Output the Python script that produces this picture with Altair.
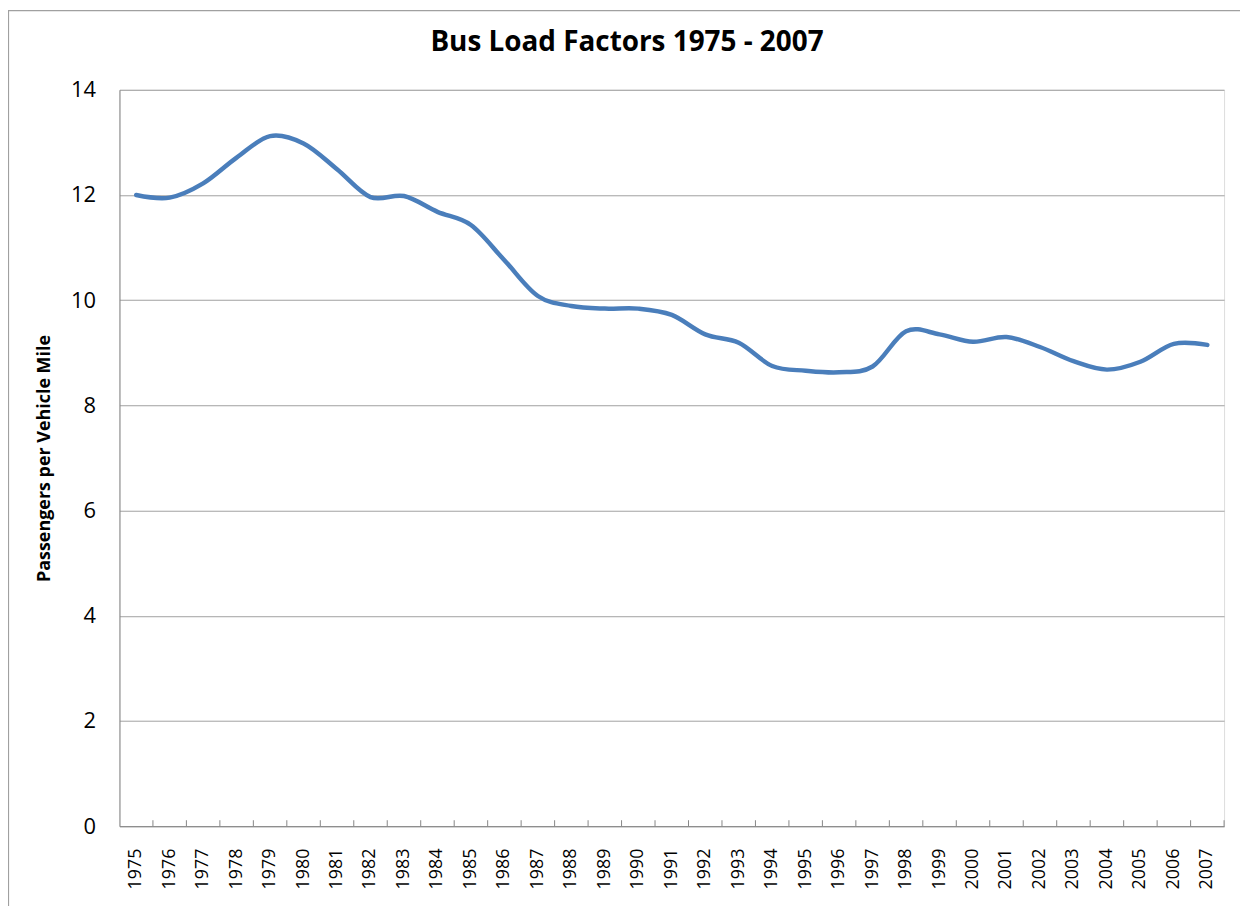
import altair as alt
import pandas as pd

# ---- data ----
years = [str(y) for y in range(1975, 2008)]
load_factor = [12.00, 11.95, 12.22, 12.71, 13.12, 12.98, 12.49, 11.96, 11.98, 11.68,
               11.43, 10.76, 10.08, 9.89, 9.84, 9.84, 9.72, 9.35, 9.19, 8.75,
               8.66, 8.63, 8.74, 9.41, 9.35, 9.21, 9.30, 9.11, 8.84, 8.68,
               8.83, 9.17, 9.15]
y_ticks = [0, 2, 4, 6, 8, 10, 12, 14]
chart_title = "Bus Load Factors 1975 - 2007"
y_title = "Passengers per Vehicle Mile"

df = pd.DataFrame({"Year": years, "Load": load_factor})

W, H = 1110, 740
FONT = "Open Sans"

x_scale = alt.Scale(type="band", domain=years, paddingInner=0, paddingOuter=0)
x_axis = alt.Axis(
    title=None, labelAngle=270, labelFont=FONT, labelFontSize=18, labelColor="#000000",
    labelPadding=22, ticks=False, domainColor="#868686", domainWidth=1, grid=False,
    labelOverlap=False,
)
y_scale = alt.Scale(domain=[0, 14], nice=False, zero=True)
y_axis = alt.Axis(
    values=y_ticks, title=y_title, titleFont=FONT, titleFontSize=18, titleFontWeight="bold",
    titleColor="#000000", titlePadding=17, labelFont=FONT, labelFontSize=22,
    labelColor="#000000", labelPadding=24, ticks=False, domainColor="#868686",
    domainWidth=1, grid=True, gridColor="#a0a0a0", gridWidth=1,
)

line = alt.Chart(df).mark_line(
    interpolate="cardinal", color="#4a7ebb", strokeWidth=4.5, strokeCap="round"
).encode(
    x=alt.X("Year:O", scale=x_scale, axis=x_axis, bandPosition=0.5),
    y=alt.Y("Load:Q", scale=y_scale, axis=y_axis),
)

ticks = alt.Chart(df).mark_rule(color="#868686", strokeWidth=1).encode(
    x=alt.X("Year:O", scale=x_scale, axis=x_axis, bandPosition=1),
    y=alt.value(H - 6),
    y2=alt.value(H),
)

one_row = alt.Data(values=[{"t": chart_title}])

frame = alt.Chart(one_row).mark_rect(
    fill="transparent", stroke="#a0a0a0", strokeWidth=1.2
).encode(
    x=alt.value(-111.5), x2=alt.value(1300), y=alt.value(-79.5), y2=alt.value(1000)
)

title_text = alt.Chart(one_row).mark_text(
    font=FONT, fontSize=28, fontWeight="bold", color="#000000",
    align="center", baseline="middle"
).encode(
    text="t:N", x=alt.value(510), y=alt.value(-47)
)

chart = alt.layer(frame, line, ticks, title_text).properties(
    width=W, height=H,
    autosize=alt.AutoSizeParams(type="none"),
    padding={"left": 112, "top": 80, "right": 16, "bottom": 78},
).configure_view(stroke=None).configure(background="white")

chart.save("out.html", embed_options={"renderer": "svg", "actions": False})
